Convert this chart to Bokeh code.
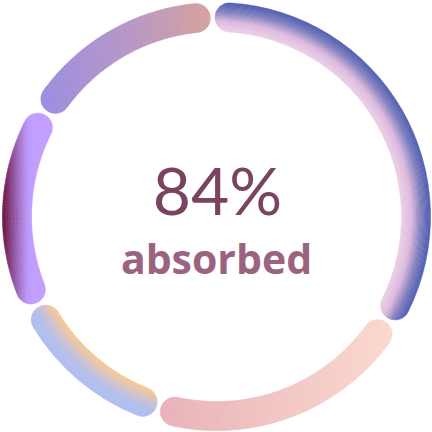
import numpy as np
from bokeh.plotting import figure
from bokeh.models import Range1d, ColumnDataSource
from bokeh.embed import file_html
from bokeh.resources import INLINE
from bokeh.core.properties import value

# ---------------- data ----------------
categories = ["Segment A", "Segment B", "Segment C", "Segment D", "Segment E"]
values = [34, 21, 13, 16, 16]
center_value = "84%"
center_label = "absorbed"

# ---------------- styles ----------------
# gradient per segment: kind, stops (t, colour)
gradients = [
    ("radial", [(0.0, "#ecd0e7"), (0.35, "#dcb9dc"), (0.70, "#7e7dc0"), (1.0, "#4e5db0")]),
    ("linear_x", [(0.0, "#e8b2b8"), (1.0, "#fad8cd")]),
    ("radial", [(0.0, "#f8c98c"), (0.42, "#cbc0d2"), (0.68, "#b2bdec"), (1.0, "#adbcf0")]),
    ("linear_x", [(0.0, "#6a1040"), (0.19, "#8a4a90"), (0.36, "#a878d0"), (0.50, "#bc98f8"),
                  (0.62, "#c19dff"), (1.0, "#c19dff")]),
    ("linear_x", [(0.0, "#9a8be0"), (0.5, "#b496c6"), (1.0, "#d6a09c")]),
]

W = H = 432
CX, CY = 216.0, 216.0
R_OUT, R_IN = 214.0, 185.0
R_MID = (R_OUT + R_IN) / 2
HALF = (R_OUT - R_IN) / 2
PAD_DEG = 9.7          # angular distance between neighbouring cap centres
START_DEG = -1.1       # clockwise from 12 o'clock


def hex2rgb(h):
    h = h.lstrip("#")
    return np.array([int(h[i:i + 2], 16) for i in (0, 2, 4)], dtype=float)


def ramp(stops, t):
    t = min(max(t, 0.0), 1.0)
    for (t0, c0), (t1, c1) in zip(stops[:-1], stops[1:]):
        if t <= t1:
            f = 0.0 if t1 == t0 else (t - t0) / (t1 - t0)
            c = hex2rgb(c0) * (1 - f) + hex2rgb(c1) * f
            return "#%02x%02x%02x" % tuple(int(round(v)) for v in c)
    return stops[-1][1]


def pos(theta_deg, r):
    """screen-clockwise angle from top -> data coords (y up)"""
    phi = np.radians(90.0 - theta_deg)
    return CX + r * np.cos(phi), CY + r * np.sin(phi)


cells = dict(x=[], y=[], r0=[], r1=[], a0=[], a1=[], c=[])


def add(x, y, r0, r1, a0, a1, c):
    cells["x"].append(x); cells["y"].append(y)
    cells["r0"].append(r0); cells["r1"].append(r1)
    cells["a0"].append(a0); cells["a1"].append(a1)
    cells["c"].append(c)


total = float(sum(values))
cum = START_DEG
for val, (kind, stops) in zip(values, gradients):
    span = val / total * 360.0
    th0 = cum + PAD_DEG / 2
    th1 = cum + span - PAD_DEG / 2
    cum += span

    thetas = np.linspace(th0, th1, 200)
    cxs = np.array([pos(t, R_MID)[0] for t in thetas])
    xmin, xmax = cxs.min() - HALF, cxs.max() + HALF

    def colour_at(px, py):
        if kind == "radial":
            r = np.hypot(px - CX, py - CY)
            return ramp(stops, (r - R_IN) / (R_OUT - R_IN))
        return ramp(stops, (px - xmin) / (xmax - xmin))

    # body
    if kind == "radial":
        nb = 26
        edges = np.linspace(R_IN, R_OUT, nb + 1)
        for k in range(nb):
            rm = (edges[k] + edges[k + 1]) / 2
            c = ramp(stops, (rm - R_IN) / (R_OUT - R_IN))
            add(CX, CY, edges[k], edges[k + 1],
                np.radians(90 - th1), np.radians(90 - th0), c)
    else:
        n = int(np.ceil((th1 - th0) / 0.8))
        tedges = np.linspace(th0, th1, n + 1)
        nb = 10
        redges = np.linspace(R_IN, R_OUT, nb + 1)
        for k in range(n):
            tm = (tedges[k] + tedges[k + 1]) / 2
            for b in range(nb):
                px, py = pos(tm, (redges[b] + redges[b + 1]) / 2)
                add(CX, CY, redges[b], redges[b + 1],
                    np.radians(90 - tedges[k + 1]), np.radians(90 - tedges[k]),
                    colour_at(px, py))

    # round caps
    for th, is_end in ((th0, False), (th1, True)):
        px, py = pos(th, R_MID)
        phi = 90.0 - th
        if is_end:
            a_start, a_stop = phi - 180.0, phi
        else:
            a_start, a_stop = phi, phi + 180.0
        K, M = 8, 14
        redges = np.linspace(0, HALF, K + 1)
        aedges = np.linspace(a_start, a_stop, M + 1)
        for i in range(K):
            for j in range(M):
                rm = (redges[i] + redges[i + 1]) / 2
                am = np.radians((aedges[j] + aedges[j + 1]) / 2)
                qx, qy = px + rm * np.cos(am), py + rm * np.sin(am)
                add(px, py, redges[i], redges[i + 1],
                    np.radians(aedges[j]), np.radians(aedges[j + 1]),
                    colour_at(qx, qy))

src = ColumnDataSource(cells)

p = figure(width=W, height=H, x_range=Range1d(0, W), y_range=Range1d(0, H),
           output_backend="svg", toolbar_location=None, min_border=0,
           x_axis_type=None, y_axis_type=None)
p.grid.visible = False
p.outline_line_color = None
p.background_fill_color = "white"
p.border_fill_color = "white"

p.annular_wedge(x="x", y="y", inner_radius="r0", outer_radius="r1",
                start_angle="a0", end_angle="a1", direction="anticlock",
                fill_color="c", line_color="c", line_width=0.6, source=src)

p.text(x=[217], y=[H - 189], text=[center_value], text_font=value("Lato"),
       text_font_size="66px", text_font_style="normal", text_align="center",
       text_baseline="alphabetic", text_color="#7a4460")
p.text(x=[216], y=[H - 257], text=[center_label], text_font=value("Open Sans"),
       text_font_size="41px", text_font_style="bold", text_align="center",
       text_baseline="alphabetic", text_color="#9a6480")

open("out.html", "w").write(file_html(p, INLINE))
